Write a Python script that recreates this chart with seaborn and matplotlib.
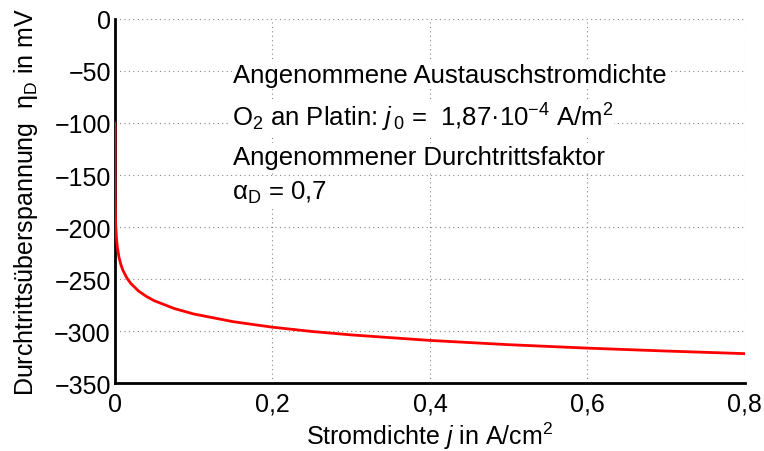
import matplotlib
matplotlib.use("Agg")
import matplotlib.pyplot as plt
import seaborn as sns
import pandas as pd

# Current density j in A/cm^2 and charge-transfer overpotential eta_D in mV
stromdichte = [0.000004, 0.00001, 0.00005, 0.0001, 0.0002, 0.0005, 0.001, 0.002,
               0.003, 0.005, 0.0075, 0.01, 0.015, 0.02, 0.03, 0.04, 0.05, 0.075,
               0.1, 0.15, 0.2, 0.25, 0.3, 0.4, 0.5, 0.6, 0.7, 0.8]
ueberspannung = [-100.0, -115.0, -144.4, -157.1, -169.8, -186.5, -199.2, -211.9,
                 -219.3, -228.7, -236.1, -241.4, -248.8, -254.1, -261.5, -266.7,
                 -270.8, -278.2, -283.5, -290.9, -296.2, -300.3, -303.6, -308.9,
                 -313.0, -316.3, -319.1, -321.6]

x_ticks = [0, 0.2, 0.4, 0.6, 0.8]
x_ticklabels = ["0", "0,2", "0,4", "0,6", "0,8"]
y_ticks = [0, -50, -100, -150, -200, -250, -300, -350]
y_ticklabels = ["0", "\u221250", "\u2212100", "\u2212150", "\u2212200",
                "\u2212250", "\u2212300", "\u2212350"]

sns.set_style("white")
plt.rcParams["font.family"] = ["Liberation Sans", "DejaVu Sans"]
plt.rcParams["mathtext.fontset"] = "custom"
plt.rcParams["mathtext.rm"] = "Liberation Sans"
plt.rcParams["mathtext.it"] = "Liberation Sans:italic"
plt.rcParams["mathtext.bf"] = "Liberation Sans:bold"
plt.rcParams["text.color"] = "black"
plt.rcParams["axes.labelcolor"] = "black"

df = pd.DataFrame({"j": stromdichte, "eta": ueberspannung})

fig = plt.figure(figsize=(7.64, 4.52), dpi=100)
ax = fig.add_axes([0.1505, 0.150, 0.8245, 0.806])

sns.lineplot(data=df, x="j", y="eta", color="#ff0000", linewidth=2.0, ax=ax,
             sort=True, zorder=3)

ax.set_xlim(0, 0.8)
ax.set_ylim(-350, 0)
ax.set_xticks(x_ticks)
ax.set_xticklabels(x_ticklabels)
ax.set_yticks(y_ticks)
ax.set_yticklabels(y_ticklabels)

ax.grid(True, linestyle=(0, (1, 3)), color="#888888", linewidth=0.8)
ax.set_axisbelow(True)

for side in ("top", "right"):
    ax.spines[side].set_visible(False)
for side in ("left", "bottom"):
    ax.spines[side].set_linewidth(2.0)
    ax.spines[side].set_color("black")

ax.tick_params(axis="both", direction="in", length=5, width=1.5,
               labelsize=18, colors="black")
ax.tick_params(axis="x", pad=6)
ax.tick_params(axis="y", pad=3)

ax.set_xlabel("Stromdichte $j$ in A/cm$^2$", fontsize=18, labelpad=3)
ax.set_ylabel("Durchtrittsüberspannung  $\\mathrm{\\eta}_{\\mathrm{D}}$ in mV",
              fontsize=18, labelpad=10)

box = dict(facecolor="white", edgecolor="none", pad=1.0)
fs = 18.5
ax.text(0.150, -60.6, "Angenommene Austauschstromdichte", fontsize=fs,
        va="baseline", ha="left", bbox=box, zorder=4)
ax.text(0.148, -103, "O$_2$ an Platin: $j$$_{\\,0}$ =  1,87\u00b710$^{\u22124}$ A/m$^2$",
        fontsize=fs, va="baseline", ha="left", bbox=box, zorder=4)
ax.text(0.150, -139, "Angenommener Durchtrittsfaktor", fontsize=fs,
        va="baseline", ha="left", bbox=box, zorder=4)
ax.text(0.148, -173, "$\\mathrm{\\alpha}_{\\mathrm{D}}$ = 0,7", fontsize=fs,
        va="baseline", ha="left", bbox=box, zorder=4)

fig.savefig("out.png", dpi=100)
